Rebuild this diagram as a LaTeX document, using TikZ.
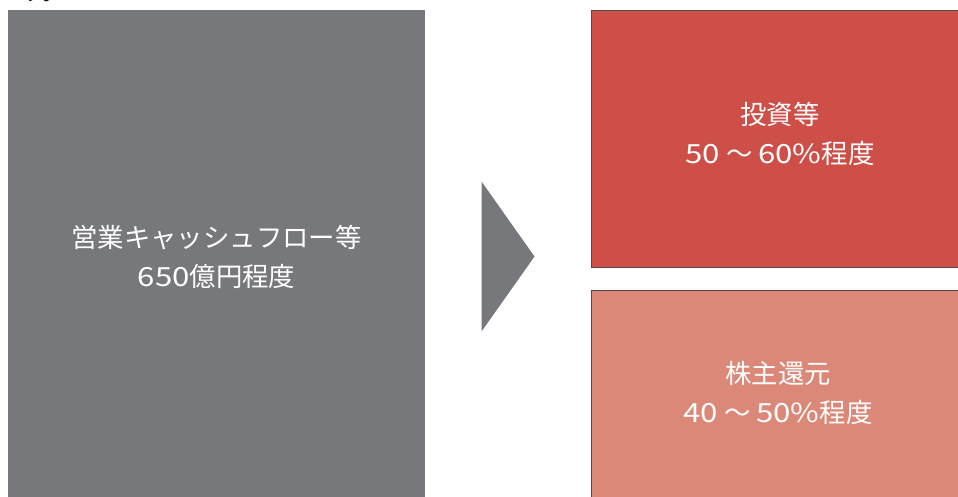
\documentclass[tikz,border=0pt]{standalone}
\usepackage{fontspec}
\setmainfont{Noto Sans CJK JP}
\newfontfamily\widefont[FakeStretch=1.18]{Noto Sans CJK JP}
\newcommand{\widedigits}[1]{{\widefont #1}}
\definecolor{boxgray}{HTML}{77787C}
\definecolor{boxred}{HTML}{CD4F48}
\definecolor{boxpink}{HTML}{DB8878}
\definecolor{edgegray}{HTML}{4E4848}
\begin{document}
\begin{tikzpicture}[x=1pt,y=-1pt,
  lbl/.style={text=white,font=\fontsize{26.4}{39}\selectfont,align=center,inner sep=0pt}]
\useasboundingbox (0,0) rectangle (958,497);
\begin{scope}
\clip (0,0) rectangle (958,497);
\node[anchor=south west,inner sep=0pt,font=\fontsize{22}{22}\selectfont,text=black] (frag) at (22,2) {す。};
\fill[boxgray] (8,10) rectangle (425,510);
\fill[boxred,draw=edgegray,line width=1.2pt] (591.5,10.5) rectangle (975,267.5);
\fill[boxpink,draw=edgegray,line width=1.2pt] (591.5,290.5) rectangle (975,510);
\fill[boxgray] (481.5,181.5) -- (534.5,256.5) -- (481.5,331.5) -- cycle;
\end{scope}
\node[lbl] (ops) at (216.5,257) {営業キャッシュフロー等\\\widedigits{650}億円程度};
\node[lbl] (inv) at (780,134) {投資等\\\widedigits{50} ～ \widedigits{60\%}程度};
\node[lbl] (ret) at (778,393) {株主還元\\\widedigits{40} ～ \widedigits{50\%}程度};
\end{tikzpicture}
\end{document}
